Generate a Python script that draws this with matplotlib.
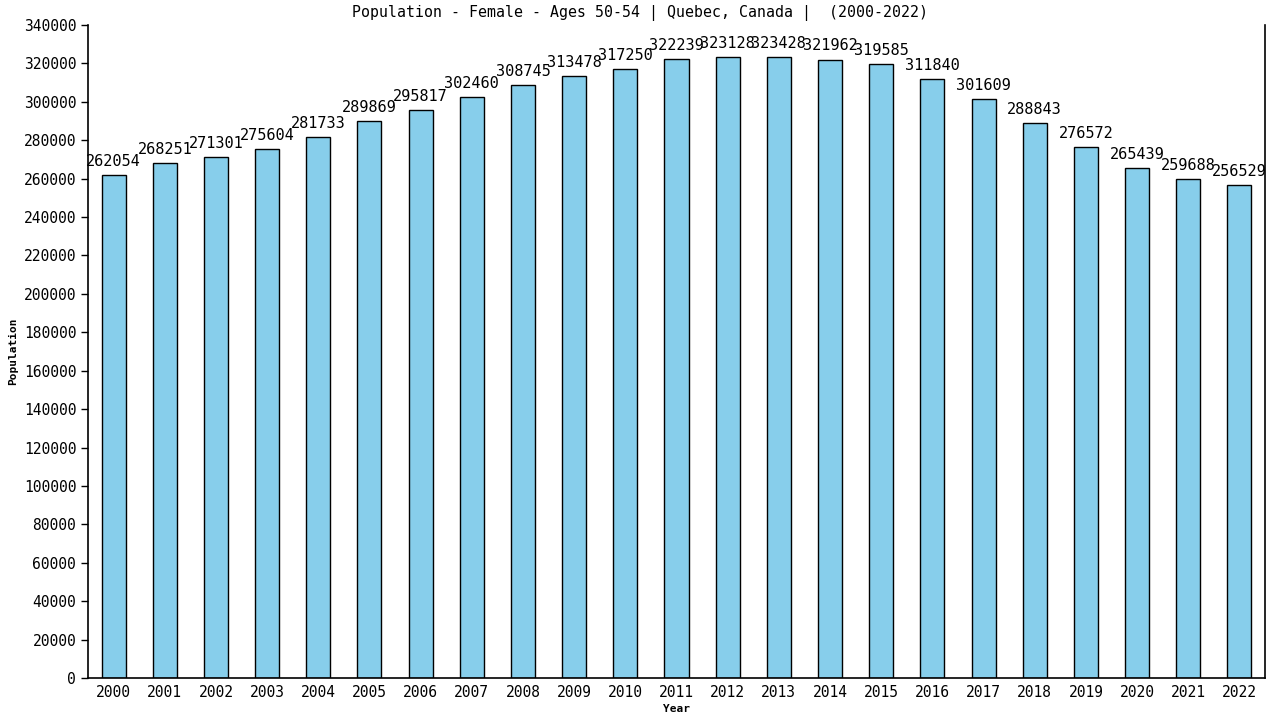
import matplotlib
matplotlib.use("Agg")
import matplotlib.pyplot as plt

years = [str(y) for y in range(2000, 2023)]
population = [262054, 268251, 271301, 275604, 281733, 289869, 295817, 302460,
              308745, 313478, 317250, 322239, 323128, 323428, 321962, 319585,
              311840, 301609, 288843, 276572, 265439, 259688, 256529]
yticks = list(range(0, 340001, 20000))

plt.rcParams['font.family'] = ['DejaVu Sans Mono']

fig = plt.figure(figsize=(12.8, 7.2), dpi=100)
ax = fig.add_axes([88/1280, 42/720, (1265-88)/1280, (678-25)/720])

x = list(range(len(years)))
ax.bar(x, population, width=0.47, color='#87CEEB', edgecolor='black', linewidth=1)

for xi, v in zip(x, population):
    ax.text(xi, v + 3200, str(v), ha='center', va='bottom', fontsize=11, color='black')

ax.set_xlim(-0.5, len(years) - 0.5)
ax.set_ylim(0, 340000)
ax.set_xticks(x)
ax.set_xticklabels(years, fontsize=10.5)
ax.set_yticks(yticks)
ax.set_yticklabels([str(t) for t in yticks], fontsize=10.5)
ax.tick_params(axis='both', direction='out', length=5, width=1, colors='black')
ax.tick_params(axis='x', length=0, pad=5)

ax.spines['top'].set_visible(False)
for s in ['left', 'bottom', 'right']:
    ax.spines[s].set_linewidth(1.2)
    ax.spines[s].set_color('black')

ax.set_xlabel('Year', fontsize=8, fontweight='bold', labelpad=3)
ax.set_ylabel('Population', fontsize=8, fontweight='bold', labelpad=4)
fig.text(0.5, 1 - 13/720, 'Population - Female - Ages 50-54 | Quebec, Canada |  (2000-2022)',
         ha='center', va='center', fontsize=10.7)

fig.savefig('out.png', dpi=100)
